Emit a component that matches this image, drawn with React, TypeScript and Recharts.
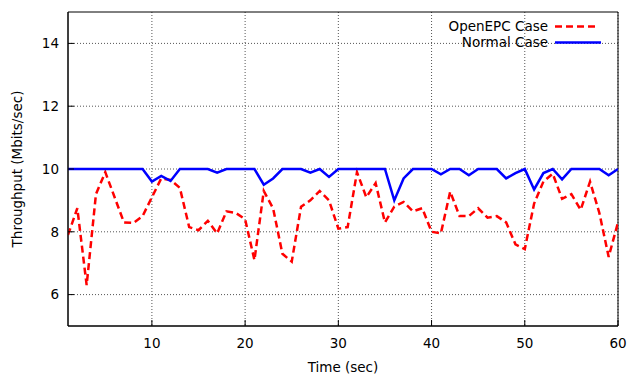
import React from 'react';
import {
  LineChart,
  Line,
  XAxis,
  YAxis,
  CartesianGrid,
  Legend,
  ReferenceArea,
} from 'recharts';

const times = [
  1, 2, 3, 4, 5, 6, 7, 8, 9, 10,
  11, 12, 13, 14, 15, 16, 17, 18, 19, 20,
  21, 22, 23, 24, 25, 26, 27, 28, 29, 30,
  31, 32, 33, 34, 35, 36, 37, 38, 39, 40,
  41, 42, 43, 44, 45, 46, 47, 48, 49, 50,
  51, 52, 53, 54, 55, 56, 57, 58, 59, 60,
];

const openEpc = [
  7.9, 8.75, 6.3, 9.2, 9.9, 9.1, 8.3, 8.28, 8.5, 9.1,
  9.7, 9.65, 9.4, 8.15, 8.05, 8.35, 7.95, 8.65, 8.6, 8.4,
  7.1, 9.3, 8.75, 7.3, 7.05, 8.8, 9.0, 9.3, 9.0, 8.1,
  8.15, 9.9, 9.1, 9.55, 8.3, 8.8, 8.95, 8.65, 8.75, 8.0,
  7.95, 9.28, 8.5, 8.5, 8.75, 8.45, 8.5, 8.3, 7.6, 7.45,
  8.9, 9.6, 9.85, 9.05, 9.2, 8.7, 9.6, 8.6, 7.2, 8.3,
];

const normal = [
  10, 10, 10, 10, 10, 10, 10, 10, 10, 9.6,
  9.78, 9.62, 10, 10, 10, 10, 9.88, 10, 10, 10,
  10, 9.5, 9.7, 10, 10, 10, 9.88, 10, 9.75, 10,
  10, 10, 10, 10, 10, 9.0, 9.7, 10, 10, 10,
  9.83, 10, 10, 9.8, 10, 10, 10, 9.7, 9.87, 10,
  9.35, 9.87, 10, 9.67, 10, 10, 10, 10, 9.8, 10,
];

const xTicks = [10, 20, 30, 40, 50, 60];
const yTicks = [6, 8, 10, 12, 14];

const seriesNames = ['OpenEPC Case', 'Normal Case'];

const data = times.map((t, i) => ({ t, openEpc: openEpc[i], normal: normal[i] }));

const FONT = 'DejaVu Sans';
const FS = 13.5;

const LegendBox = () => (
  <svg width={240} height={40} style={{ display: 'block' }}>
    <text x={168} y={16} textAnchor="end" fontFamily={FONT} fontSize={FS} fill="#000">
      {seriesNames[0]}
    </text>
    <line x1={175} x2={219} y1={11.5} y2={11.5} stroke="#ff0000" strokeWidth={2.5} strokeDasharray="7 4" />
    <text x={168} y={32} textAnchor="end" fontFamily={FONT} fontSize={FS} fill="#000">
      {seriesNames[1]}
    </text>
    <line x1={175} x2={221} y1={27.5} y2={27.5} stroke="#0000ff" strokeWidth={2.5} />
  </svg>
);

const emptyTick = () => <g />;

export default function App() {
  return (
    <div style={{ position: 'absolute', left: 0, top: 0, width: 628, height: 376, background: '#fff', fontFamily: FONT }}>
      <LineChart
        width={628}
        height={376}
        data={data}
        margin={{ top: 12, right: 10, bottom: 0, left: 0 }}
      >
        <CartesianGrid
          stroke="#555"
          strokeDasharray="1 2"
          strokeWidth={1}
          horizontalValues={yTicks}
          verticalValues={xTicks}
        />
        <XAxis
          dataKey="t"
          type="number"
          domain={[1, 60]}
          ticks={xTicks}
          height={50}
          tickSize={-6}
          tickMargin={18}
          tickLine={{ stroke: '#000' }}
          axisLine={{ stroke: '#000' }}
          tick={{ fill: '#000', fontSize: FS, fontFamily: FONT }}
          allowDataOverflow
          label={{ value: 'Time (sec)', position: 'insideBottom', offset: 4, fill: '#000', fontSize: FS, fontFamily: FONT }}
        />
        <XAxis
          xAxisId="top"
          orientation="top"
          type="number"
          domain={[1, 60]}
          ticks={xTicks}
          height={0}
          tickSize={-6}
          tickLine={{ stroke: '#000' }}
          axisLine={false}
          tick={emptyTick}
        />
        <YAxis
          type="number"
          domain={[5, 15]}
          ticks={yTicks}
          width={68}
          tickSize={-6}
          tickMargin={15}
          tickLine={{ stroke: '#000' }}
          axisLine={{ stroke: '#000' }}
          tick={{ fill: '#000', fontSize: FS, fontFamily: FONT }}
          allowDataOverflow
          label={{ value: 'Throughput (Mbits/sec)', angle: -90, position: 'insideLeft', offset: 17, fill: '#000', fontSize: FS, fontFamily: FONT, style: { textAnchor: 'middle' } }}
        />
        <YAxis
          yAxisId="right"
          orientation="right"
          type="number"
          domain={[5, 15]}
          ticks={yTicks}
          width={0}
          tickSize={-6}
          tickLine={{ stroke: '#000' }}
          axisLine={false}
          tick={emptyTick}
        />
        <ReferenceArea x1={1} x2={60} y1={5} y2={15} fill="none" stroke="#000" strokeWidth={1} ifOverflow="visible" />
        <Legend
          layout="horizontal"
          verticalAlign="middle"
          align="center"
          content={LegendBox}
          wrapperStyle={{ position: 'absolute', left: 380, top: 15, width: 240, height: 40 }}
        />
        <Line
          type="linear"
          dataKey="openEpc"
          name={seriesNames[0]}
          stroke="#ff0000"
          strokeWidth={2.5}
          strokeDasharray="7 4"
          dot={false}
          isAnimationActive={false}
        />
        <Line
          type="linear"
          dataKey="normal"
          name={seriesNames[1]}
          stroke="#0000ff"
          strokeWidth={2.5}
          dot={false}
          isAnimationActive={false}
        />
      </LineChart>
    </div>
  );
}
